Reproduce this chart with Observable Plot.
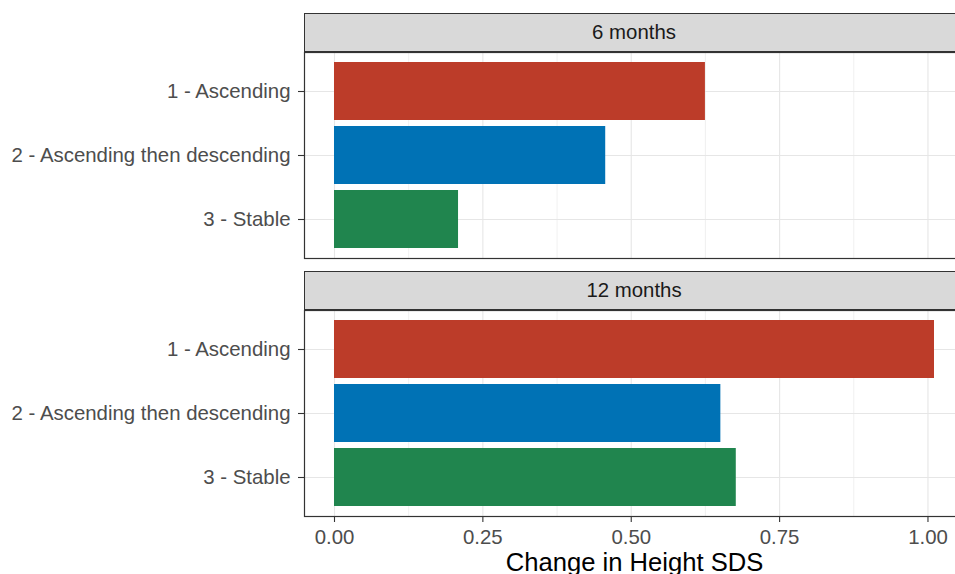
<!DOCTYPE html>
<html>
<head>
<meta charset="utf-8">
<script src="https://cdn.jsdelivr.net/npm/d3@7"></script>
<script src="https://cdn.jsdelivr.net/npm/@observablehq/plot@0.6"></script>
<style>
  html, body { margin: 0; padding: 0; background: #fff; overflow: hidden; }
  #chart { position: relative; width: 955px; height: 574px; overflow: hidden;
           font-family: "Liberation Sans", Arial, Helvetica, sans-serif; }
  .strip { position: absolute; box-sizing: border-box; background: #D9D9D9;
           border: 1.2px solid #333; color: #1A1A1A; font-size: 20.4px;
           text-align: center; line-height: 37px; }
  .panel { position: absolute; left: 0; }
</style>
</head>
<body>
<div id="chart"></div>
<script>
// Follow-up periods (facets) and height trajectories (bars)
const periods = ["6 months", "12 months"];
const trajectories = ["1 - Ascending", "2 - Ascending then descending", "3 - Stable"];
// Change in height SDS per trajectory, one array per period
const change6 = [0.625, 0.457, 0.209];
const change12 = [1.011, 0.651, 0.677];
const trajectoryColors = ["#BC3C29", "#0072B5", "#20854E"];
const xTicks = [0, 0.25, 0.5, 0.75, 1.0];
const xTitle = "Change in Height SDS";

const font = '"Liberation Sans", Arial, Helvetica, sans-serif';
const minorTicks = xTicks.slice(1).map((t, i) => (t + xTicks[i]) / 2);
const maxVal = d3.max([...change6, ...change12]);
const xDomain = [-0.05 * maxVal, maxVal * 1.05];

const chart = document.getElementById("chart");

function panel(values, withXAxis) {
  const rows = trajectories.map((t, i) => ({trajectory: t, change: values[i]}));
  return Plot.plot({
    width: 970,
    height: withXAxis ? 265 : 208,
    marginLeft: 304,
    marginRight: 6,
    marginTop: 1,
    marginBottom: withXAxis ? 58 : 1,
    style: {fontFamily: font, fontSize: "20.4px", color: "#4D4D4D",
            background: "transparent", maxWidth: "none", overflow: "visible"},
    x: {domain: xDomain, axis: null, label: null},
    y: {domain: trajectories, paddingInner: 0.1, paddingOuter: 0.15, axis: null, label: null},
    color: {domain: trajectories, range: trajectoryColors},
    marks: [
      Plot.gridX(minorTicks, {stroke: "#E6E6E6", strokeOpacity: 1, strokeWidth: 0.6}),
      Plot.gridX(xTicks, {stroke: "#E6E6E6", strokeOpacity: 1, strokeWidth: 1.1}),
      Plot.gridY({stroke: "#E6E6E6", strokeOpacity: 1, strokeWidth: 1.1}),
      Plot.barX(rows, {x: "change", y: "trajectory", fill: "trajectory"}),
      Plot.frame({stroke: "#333", strokeWidth: 1.2}),
      Plot.axisY({tickSize: 6, tickPadding: 8, stroke: "#333", strokeWidth: 1.1,
                  fill: "#4D4D4D", fontSize: 20.4, label: null}),
      withXAxis ? Plot.axisX(xTicks, {tickSize: 6, tickPadding: 7, stroke: "#333", strokeWidth: 1.1,
                  fill: "#4D4D4D", fontSize: 20.4, tickFormat: d3.format(".2f"), label: null}) : null,
      withXAxis ? Plot.text([xTitle], {frameAnchor: "bottom", dy: 54, fontSize: 25.6,
                  fill: "#000", text: d => d}) : null
    ]
  });
}

function addStrip(label, top) {
  const s = document.createElement("div");
  s.className = "strip";
  s.style.left = "304px";
  s.style.width = "660px";
  s.style.top = top + "px";
  s.style.height = "39px";
  s.textContent = label;
  chart.appendChild(s);
}

function addPanel(svg, top) {
  const d = document.createElement("div");
  d.className = "panel";
  d.style.top = top + "px";
  d.appendChild(svg);
  chart.appendChild(d);
}

addStrip(periods[0], 13);
addPanel(panel(change6, false), 51);
addStrip(periods[1], 271);
addPanel(panel(change12, true), 309);
</script>
</body>
</html>
